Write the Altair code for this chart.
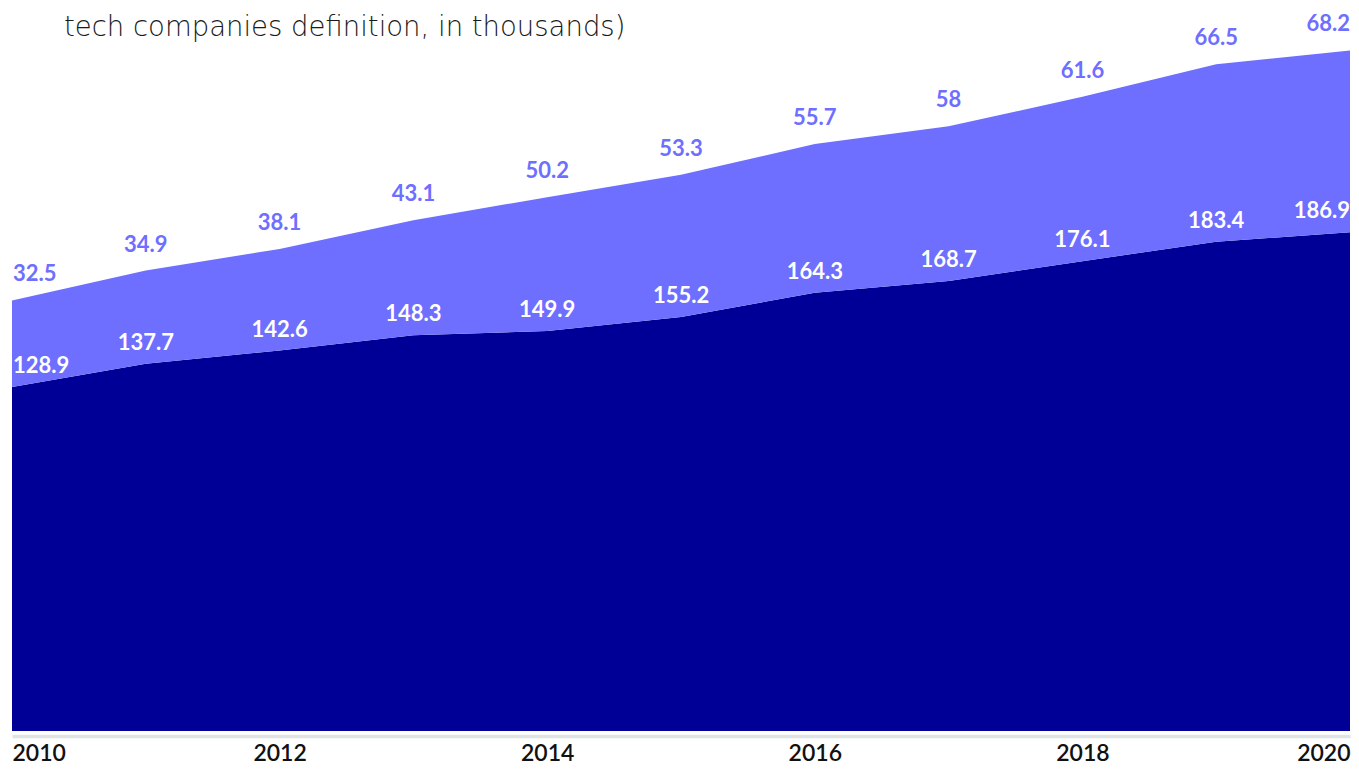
import altair as alt
import pandas as pd

# ---- data ----
years = [2010, 2011, 2012, 2013, 2014, 2015, 2016, 2017, 2018, 2019, 2020]
core_values = [128.9, 137.7, 142.6, 148.3, 149.9, 155.2, 164.3, 168.7, 176.1, 183.4, 186.9]
extra_values = [32.5, 34.9, 38.1, 43.1, 50.2, 53.3, 55.7, 58, 61.6, 66.5, 68.2]
series_names = ["Core tech companies", "Extended tech companies"]
tick_years = [2010, 2012, 2014, 2016, 2018, 2020]
title_line = "tech companies definition, in thousands)"

DARK = "#000096"
LIGHT = "#6E6EFF"
FONT = "Lato"

# long table for the stacked area
rows = []
for y, c, e in zip(years, core_values, extra_values):
    rows.append({"year": y, "series": series_names[0], "value": c, "ord": 0})
    rows.append({"year": y, "series": series_names[1], "value": e, "ord": 1})
long_df = pd.DataFrame(rows)

wide_df = pd.DataFrame({"year": years, "core": core_values, "extra": extra_values})
first_year, last_year = years[0], years[-1]

x_enc = alt.X(
    "year:Q",
    scale=alt.Scale(domain=[first_year, last_year], nice=False, zero=False),
    axis=alt.Axis(
        values=tick_years,
        format="d",
        title=None,
        grid=False,
        ticks=False,
        labelFlush=True,
        labelFont=FONT,
        labelFontSize=23,
        labelFontWeight=600,
        labelColor="#111111",
        labelPadding=6,
        domainColor="#dfe3e3",
        domainWidth=3.5,
        offset=5,
    ),
)
y_scale = alt.Scale(domain=[0, 271], nice=False, zero=True)

area = (
    alt.Chart(long_df)
    .mark_area(opacity=1)
    .encode(
        x=x_enc,
        y=alt.Y("value:Q", stack="zero", scale=y_scale, axis=None),
        color=alt.Color(
            "series:N",
            scale=alt.Scale(domain=series_names, range=[DARK, LIGHT]),
            legend=None,
        ),
        order=alt.Order("ord:Q", sort="ascending"),
    )
)


def label_layers(field, ypos_expr, color, dy):
    layers = []
    for cond, align, dx in [
        (f"datum.year == {first_year}", "left", 1),
        (f"datum.year > {first_year} && datum.year < {last_year}", "center", 0),
        (f"datum.year == {last_year}", "right", 0),
    ]:
        layers.append(
            alt.Chart(wide_df)
            .transform_calculate(ypos=ypos_expr)
            .transform_filter(cond)
            .mark_text(
                align=align,
                baseline="middle",
                dy=dy,
                dx=dx,
                font=FONT,
                fontSize=22,
                fontWeight="bold",
                color=color,
            )
            .encode(
                x=alt.X("year:Q"),
                y=alt.Y("ypos:Q", scale=y_scale, axis=None),
                text=alt.Text(f"{field}:Q", format="~g"),
            )
        )
    return layers


dark_labels = label_layers("core", "datum.core", "#ffffff", -21)
light_labels = label_layers("extra", "datum.core + datum.extra", LIGHT, -26)

title_text = (
    alt.Chart(pd.DataFrame({"t": [title_line]}))
    .mark_text(
        align="left",
        baseline="alphabetic",
        font="DejaVu Sans",
        fontSize=27.5,
        fontWeight=200,
        color="#1a1a1a",
    )
    .encode(x=alt.value(52), y=alt.value(28), text="t:N")
)

chart = (
    alt.layer(area, *dark_labels, *light_labels, title_text)
    .properties(
        width=1338,
        height=723,
        autosize=alt.AutoSizeParams(type="none"),
        padding={"left": 4, "top": 0, "right": 1, "bottom": 34},
    )
    .configure_view(stroke=None)
)

chart.save("out.html", embed_options={"renderer": "svg", "actions": False})
